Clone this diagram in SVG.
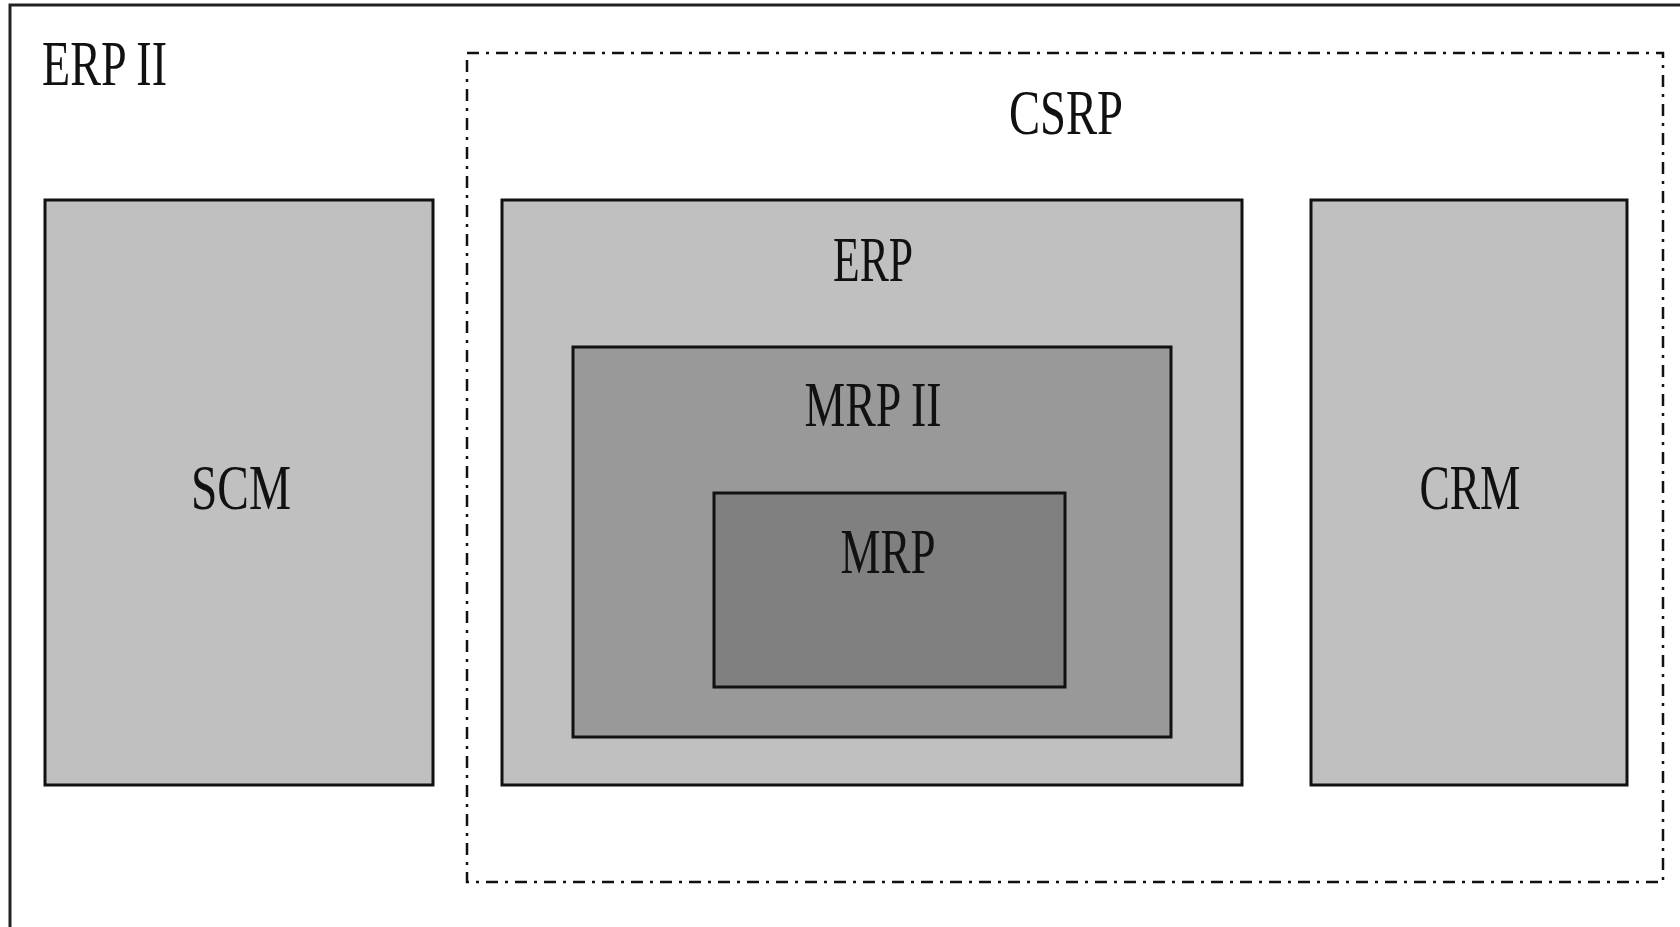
<svg xmlns="http://www.w3.org/2000/svg" width="1680" height="927" viewBox="0 0 1680 927">
<style>
.box{stroke:#111;stroke-width:3}
.lbl{font-family:"Liberation Serif","Noto Sans CJK SC",serif;font-size:64px;fill:#111;text-anchor:middle}
</style>
<rect x="0" y="0" width="1680" height="927" fill="#ffffff"/>
<g id="erp2">
<rect x="10" y="5" width="1720" height="960" fill="#ffffff" stroke="#222" stroke-width="3"/>
<text class="lbl" x="42" y="85" style="text-anchor:start" textLength="125" lengthAdjust="spacingAndGlyphs">ERP II</text>
</g>
<g id="csrp">
<rect x="467" y="53" width="1196" height="829" fill="none" stroke="#111" stroke-width="2.5" stroke-dasharray="12 7 3 7"/>
<text class="lbl" x="1066" y="134" textLength="114" lengthAdjust="spacingAndGlyphs">CSRP</text>
</g>
<g id="scm">
<rect class="box" x="45" y="200" width="388" height="585" fill="#c0c0c0"/>
<text class="lbl" x="241" y="509" textLength="100" lengthAdjust="spacingAndGlyphs">SCM</text>
</g>
<g id="erp">
<rect class="box" x="502" y="200" width="740" height="585" fill="#c0c0c0"/>
<text class="lbl" x="873" y="281" textLength="80" lengthAdjust="spacingAndGlyphs">ERP</text>
</g>
<g id="mrp2">
<rect class="box" x="573" y="347" width="598" height="390" fill="#999999"/>
<text class="lbl" x="873" y="426" textLength="137" lengthAdjust="spacingAndGlyphs">MRP II</text>
</g>
<g id="mrp">
<rect class="box" x="714" y="493" width="351" height="194" fill="#808080"/>
<text class="lbl" x="888" y="573" textLength="95" lengthAdjust="spacingAndGlyphs">MRP</text>
</g>
<g id="crm">
<rect class="box" x="1311" y="200" width="316" height="585" fill="#c0c0c0"/>
<text class="lbl" x="1470" y="509" textLength="101" lengthAdjust="spacingAndGlyphs">CRM</text>
</g>
<g id="connectors"/>
</svg>
